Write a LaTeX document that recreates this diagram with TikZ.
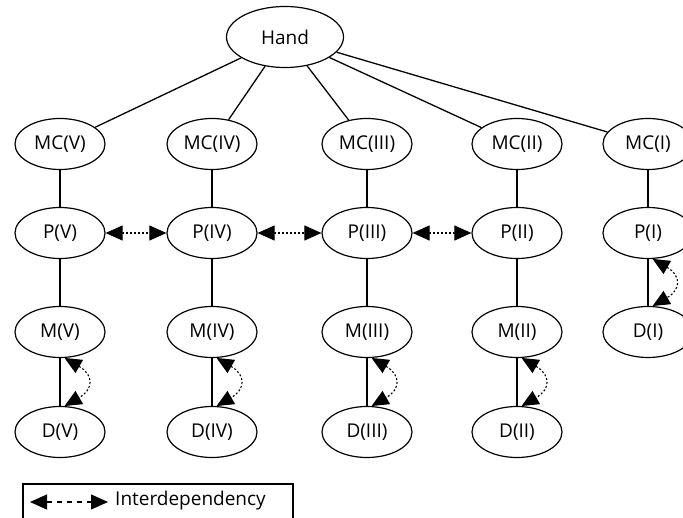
\documentclass[tikz,border=0pt]{standalone}
\usepackage{fontspec}
\setmainfont{Open Sans}
\usetikzlibrary{arrows.meta,shapes.geometric}

\begin{document}
\begin{tikzpicture}[x=1pt,y=-1pt,>={Triangle[length=17pt,width=15pt]},
  part/.style={draw,ellipse,line width=1.2pt,minimum width=90pt,minimum height=51pt,
    inner sep=0pt,font=\fontsize{19}{22}\selectfont},
  link/.style={line width=1.3pt},
  inter/.style={<->,dash pattern=on 2pt off 2pt,line width=1.1pt}]
  \useasboundingbox (0,0) rectangle (683,518);
  \node[part,minimum width=117pt,minimum height=61pt] (hand) at (285,37) {Hand};
  \foreach \n/\r/\x in {5/V/60, 4/IV/212, 3/III/367, 2/II/517, 1/I/648}
  {
    \node[part] (mc\n) at (\x,144) {MC(\r)};
    \node[part] (p\n) at (\x,233) {P(\r)};
    \draw[link] (hand) -- (mc\n);
    \draw[link] (mc\n) -- (p\n);
  }
  \foreach \n/\r/\x in {5/V/60, 4/IV/212, 3/III/367, 2/II/517}
  {
    \node[part] (m\n) at (\x,332) {M(\r)};
    \node[part] (d\n) at (\x,432) {D(\r)};
    \draw[link] (p\n) -- (m\n);
    \draw[link] (m\n) -- (d\n);
    \draw[inter] (m\n.-80) to[bend left=60,looseness=1.8] (d\n.80);
  }
  \node[part] (d1) at (648,332) {D(I)};
  \draw[link] (p1) -- (d1);
  \draw[inter] (p1.-80) to[bend left=60,looseness=1.8] (d1.80);
  \foreach \a/\b in {5/4, 4/3, 3/2}
    \draw[inter] (p\a) -- (p\b);
  % legend
  \draw[line width=1.2pt] (23,484) rectangle (293,530);
  \coordinate (la) at (30,502);
  \coordinate (lb) at (108,502);
  \draw[inter,dash pattern=on 5pt off 5pt] (la) -- (lb);
  \node[anchor=west,inner sep=0pt,font=\fontsize{19}{22}\selectfont] (key) at (115,501) {Interdependency};
\end{tikzpicture}
\end{document}
